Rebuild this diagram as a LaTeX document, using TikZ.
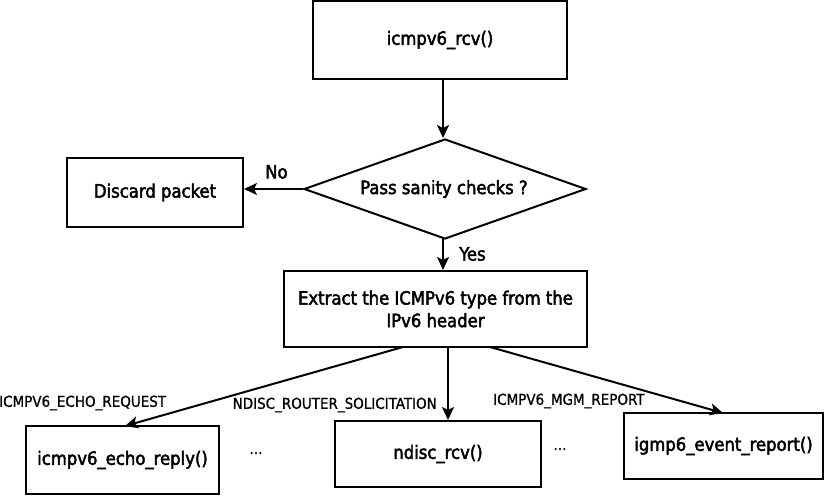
\documentclass[tikz,border=0pt]{standalone}
\usepackage{fontspec}
\setmainfont{DejaVu Sans Condensed}
\newfontfamily\semibfont{DejaVu Sans Condensed}[FakeBold=2.5]
\newfontfamily\lblfont{DejaVu Sans Condensed}[FakeBold=1]
\usetikzlibrary{shapes.geometric,arrows.meta}
\begin{document}
\begin{tikzpicture}[x=1pt,y=-1pt,
  bigtext/.style={font=\semibfont\fontsize{18.3}{22.5}\selectfont},
  box/.style={draw,line width=2pt,minimum width=#1,inner sep=0pt,align=center,bigtext},
  lbl/.style={font=\lblfont\fontsize{15}{17}\selectfont,inner sep=0pt},
  arr/.style={line width=2pt,-{Stealth[length=13pt,width=12pt,inset=3pt]}}]
\useasboundingbox (0,0) rectangle (825,496);
\node[box=254pt,minimum height=78pt] (rcv) at (440,40) {icmpv6\_rcv()};
\node[draw,line width=2pt,diamond,aspect=2.82,minimum width=282pt,minimum height=100pt,inner sep=0pt] (chk) at (445,189) {};
\node[bigtext] (chktext) at (444,189) {Pass sanity checks ?};
\node[box=176pt,minimum height=69pt] (disc) at (155,192.5) {Discard packet};
\node[box=303pt,minimum height=76pt] (ext) at (435.5,309) {Extract the ICMPv6 type from the\\IPv6 header};
\node[box=193pt,minimum height=68pt] (echo) at (122.5,460) {icmpv6\_echo\_reply()};
\node[box=206pt,minimum height=66pt] (nd) at (438,454) {ndisc\_rcv()};
\node[box=199pt,minimum height=66pt] (igmp) at (723.5,446) {igmp6\_event\_report()};
\coordinate (r1) at (443,79);
\coordinate (r2) at (443,138);
\draw[arr] (r1) -- (r2);
\draw[arr] (chk.west) -- (chk.west -| disc.east) node[pos=0.45,above=6pt,bigtext] {No};
\coordinate (y1) at (443,238);
\draw[arr] (y1) -- (y1 |- ext.north) node[midway,right=12pt,bigtext] {Yes};
\coordinate (e1) at (403,347);
\coordinate (e2) at (448,347);
\coordinate (e3) at (490,347);
\coordinate (t1) at (125,426);
\coordinate (t3) at (723,413);
\draw[arr] (e1) -- (t1);
\draw[arr] (e2) -- (e2 |- nd.north);
\draw[arr] (e3) -- (t3);
\node[lbl,anchor=west] at (-1,403) {ICMPV6\_ECHO\_REQUEST};
\node[lbl,anchor=east] at (437,405) {NDISC\_ROUTER\_SOLICITATION};
\node[lbl,anchor=west] at (493,401) {ICMPV6\_MGM\_REPORT};
\node[lbl] at (256,453) {...};
\node[lbl] at (560,449) {...};
\end{tikzpicture}
\end{document}
